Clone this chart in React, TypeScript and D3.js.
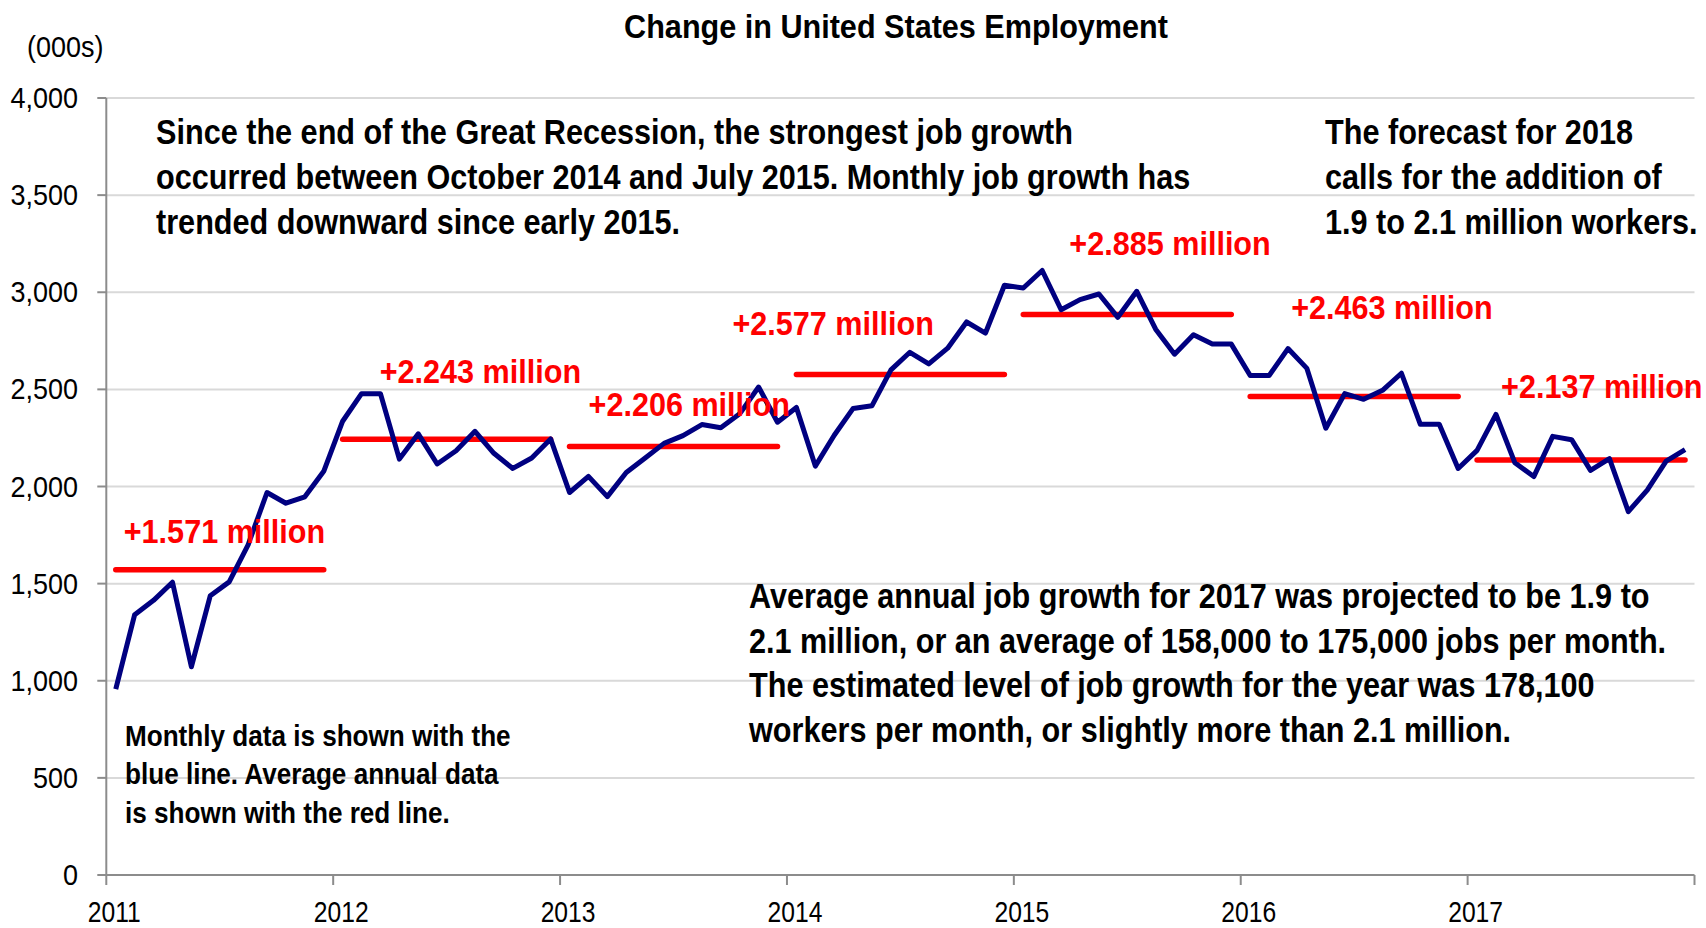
import React from 'react';
import * as d3 from 'd3';

// monthly change in employment (000s), Jan 2011 .. Dec 2017
const monthly2011 = [957, 1340, 1414, 1507, 1072, 1438, 1509, 1700, 1969, 1914, 1947, 2078];
const monthly2012 = [2336, 2478, 2478, 2141, 2271, 2116, 2184, 2284, 2171, 2093, 2147, 2245];
const monthly2013 = [1969, 2052, 1948, 2072, 2147, 2222, 2262, 2319, 2302, 2374, 2512, 2331];
const monthly2014 = [2407, 2105, 2264, 2402, 2416, 2600, 2691, 2631, 2712, 2847, 2790, 3036];
const monthly2015 = [3022, 3112, 2910, 2962, 2991, 2871, 3005, 2810, 2681, 2781, 2733, 2733];
const monthly2016 = [2571, 2571, 2710, 2608, 2300, 2478, 2449, 2495, 2583, 2320, 2320, 2093];
const monthly2017 = [2186, 2371, 2122, 2051, 2258, 2241, 2083, 2144, 1871, 1981, 2131, 2190];

const years = [2011, 2012, 2013, 2014, 2015, 2016, 2017];
const annualAvg = [1571, 2243, 2206, 2577, 2885, 2463, 2137];
const annualLabels = [
  '+1.571 million',
  '+2.243 million',
  '+2.206 million',
  '+2.577 million',
  '+2.885 million',
  '+2.463 million',
  '+2.137 million',
];
const yTicks = [0, 500, 1000, 1500, 2000, 2500, 3000, 3500, 4000];
const xTicks = [2011, 2012, 2013, 2014, 2015, 2016, 2017, 2018];

const noteTopLeft = [
  'Since the end of the Great Recession, the strongest job growth',
  'occurred between October 2014 and July 2015. Monthly job growth has',
  'trended downward since early 2015.',
];
const noteTopRight = ['The forecast for 2018', 'calls for the addition of', '1.9 to 2.1 million workers.'];
const noteBottomRight = [
  'Average annual job growth for 2017 was projected to be 1.9 to',
  '2.1 million, or an average of 158,000 to 175,000 jobs per month.',
  'The estimated level of job growth for the year was 178,100',
  'workers per month, or slightly more than 2.1 million.',
];
const noteBottomLeft = ['Monthly data is shown with the', 'blue line. Average annual data', 'is shown with the red line.'];

const monthly = [
  ...monthly2011,
  ...monthly2012,
  ...monthly2013,
  ...monthly2014,
  ...monthly2015,
  ...monthly2016,
  ...monthly2017,
];

// label placement (pixel offsets from start of each red segment)
const labelOffsets = [
  [8, -27],
  [37, -56],
  [19, -30],
  [-64, -39],
  [46, -60],
  [41, -78],
  [24, -62],
];

const W = 1706;
const H = 928;
const FONT = "'Liberation Sans', Arial, sans-serif";

const x = d3.scaleLinear().domain([2011, 2018]).range([106.3, 1694.5]);
const y = d3.scaleLinear().domain([0, 4000]).range([875, 98]);
const monthX = (i: number) => x(2011 + (i + 0.5) / 12);

function T({ x, y, size, sx, bold, fill, anchor, children }: any) {
  return (
    <text
      transform={`translate(${x},${y}) scale(${sx || 0.9},1)`}
      fontFamily={FONT}
      fontSize={size}
      fontWeight={bold ? 'bold' : 'normal'}
      fill={fill || '#000'}
      textAnchor={anchor || 'start'}
    >
      {children}
    </text>
  );
}

export default function App() {
  const line = d3
    .line<number>()
    .x((d, i) => monthX(i))
    .y((d) => y(d));

  const [x0, x1] = x.range();
  const [yBottom, yTop] = y.range();

  return (
    <svg width={W} height={H} style={{ position: 'absolute', left: 0, top: 0, background: '#fff' }}>
      {/* gridlines */}
      {yTicks.slice(1).map((t) => (
        <line key={'g' + t} x1={x0} x2={x1} y1={y(t)} y2={y(t)} stroke="#d9d9d9" strokeWidth={2} />
      ))}

      {/* axes */}
      <line x1={x0} x2={x0} y1={yTop} y2={yBottom} stroke="#8c8c8c" strokeWidth={2} />
      <line x1={x0} x2={x1} y1={yBottom} y2={yBottom} stroke="#8c8c8c" strokeWidth={2} />
      {yTicks.map((t) => (
        <g key={'y' + t}>
          <line x1={x0 - 9} x2={x0} y1={y(t)} y2={y(t)} stroke="#8c8c8c" strokeWidth={2} />
          <T x={78} y={y(t) + 10} size={30} sx={0.9} anchor="end">
            {d3.format(',')(t)}
          </T>
        </g>
      ))}
      {xTicks.map((t) => (
        <g key={'x' + t}>
          <line x1={x(t)} x2={x(t)} y1={yBottom} y2={yBottom + 10} stroke="#8c8c8c" strokeWidth={2} />
          {t < 2018 && (
            <T x={x(t) + 8} y={922} size={29} sx={0.85} anchor="middle">
              {t}
            </T>
          )}
        </g>
      ))}

      {/* annual averages */}
      {years.map((yr, k) => (
        <line
          key={'a' + yr}
          x1={monthX(k * 12)}
          x2={monthX(k * 12 + 11)}
          y1={y(annualAvg[k])}
          y2={y(annualAvg[k])}
          stroke="#ff0000"
          strokeWidth={5.5}
          strokeLinecap="round"
        />
      ))}

      {/* monthly line */}
      <path d={line(monthly) || ''} fill="none" stroke="#000080" strokeWidth={5} strokeLinejoin="round" />

      {years.map((yr, k) => (
        <T
          key={'l' + yr}
          x={monthX(k * 12) + labelOffsets[k][0]}
          y={y(annualAvg[k]) + labelOffsets[k][1]}
          size={34}
          sx={0.9}
          bold
          fill="#ff0000"
        >
          {annualLabels[k]}
        </T>
      ))}

      {/* title and unit */}
      <T x={896} y={38} size={34} sx={0.9} bold anchor="middle">
        Change in United States Employment
      </T>
      <T x={27} y={57} size={30} sx={0.9}>
        (000s)
      </T>

      {/* notes */}
      {noteTopLeft.map((s, i) => (
        <T key={'n1' + i} x={156} y={143.6 + i * 45} size={35} sx={0.875} bold>
          {s}
        </T>
      ))}
      {noteTopRight.map((s, i) => (
        <T key={'n2' + i} x={1325} y={143.6 + i * 45} size={35} sx={0.875} bold>
          {s}
        </T>
      ))}
      {noteBottomRight.map((s, i) => (
        <T key={'n3' + i} x={749} y={608 + i * 44.7} size={35} sx={0.875} bold>
          {s}
        </T>
      ))}
      {noteBottomLeft.map((s, i) => (
        <T key={'n4' + i} x={125} y={746 + i * 38.3} size={30} sx={0.87} bold>
          {s}
        </T>
      ))}
    </svg>
  );
}
